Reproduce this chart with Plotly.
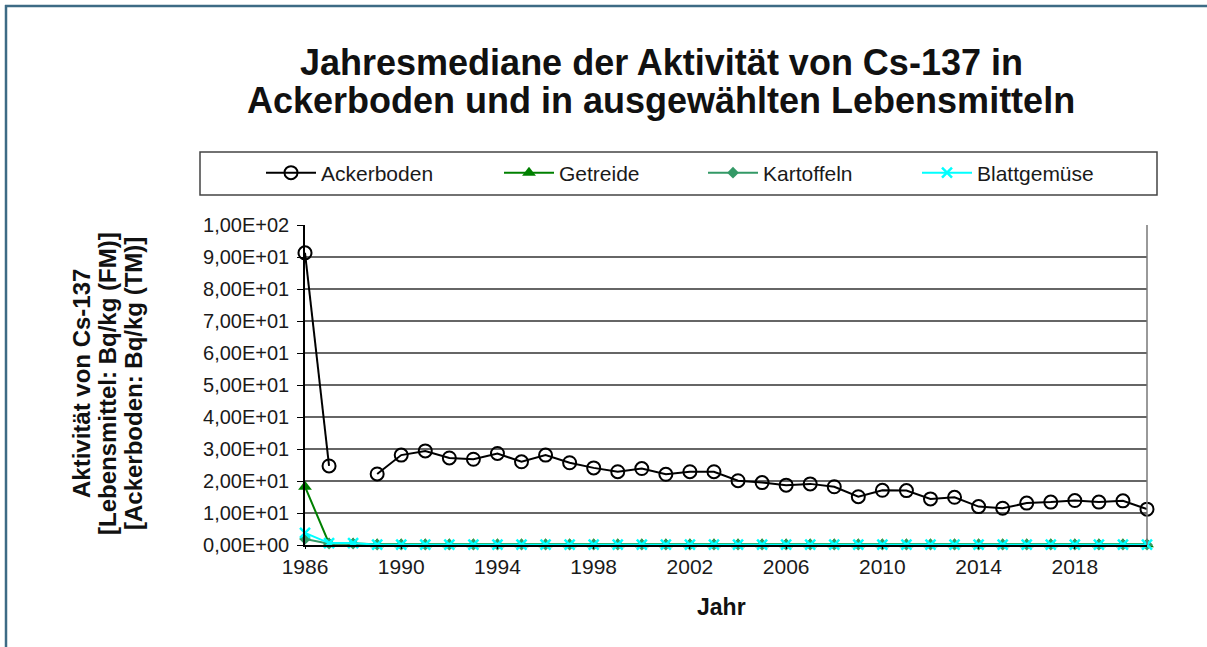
import plotly.graph_objects as go

# ---- data -------------------------------------------------------------
years = [1986, 1987, 1988, 1989, 1990, 1991, 1992, 1993, 1994, 1995,
         1996, 1997, 1998, 1999, 2000, 2001, 2002, 2003, 2004, 2005,
         2006, 2007, 2008, 2009, 2010, 2011, 2012, 2013, 2014, 2015,
         2016, 2017, 2018, 2019, 2020, 2021]

ackerboden = [91.3, 24.7, None, 22.2, 28.1, 29.4, 27.2, 26.8, 28.6, 26.0,
              28.1, 25.7, 24.1, 22.9, 23.9, 22.1, 22.9, 22.9, 20.1, 19.5,
              18.7, 19.1, 18.2, 15.1, 17.1, 17.0, 14.4, 14.9, 12.0, 11.5,
              13.1, 13.4, 13.9, 13.4, 13.8, 11.2]

getreide = [18.2, 0.5, 0.5, 0.2, 0.2, 0.2, 0.2, 0.2, 0.2, 0.2,
            0.2, 0.2, 0.2, 0.2, 0.2, 0.2, 0.2, 0.2, 0.2, 0.2,
            0.2, 0.2, 0.2, 0.2, 0.2, 0.2, 0.2, 0.2, 0.2, 0.2,
            0.2, 0.2, 0.2, 0.2, 0.2, 0.2]

kartoffeln = [1.9, 0.4, 0.4, 0.1, 0.1, 0.1, 0.1, 0.1, 0.1, 0.1,
              0.1, 0.1, 0.1, 0.1, 0.1, 0.1, 0.1, 0.1, 0.1, 0.1,
              0.1, 0.1, 0.1, 0.1, 0.1, 0.1, 0.1, 0.1, 0.1, 0.1,
              0.1, 0.1, 0.1, 0.1, 0.1, 0.1]

blattgemuese = [3.8, 0.6, 0.6, 0.1, 0.1, 0.1, 0.1, 0.1, 0.1, 0.1,
                0.1, 0.1, 0.1, 0.1, 0.1, 0.1, 0.1, 0.1, 0.1, 0.1,
                0.1, 0.1, 0.1, 0.1, 0.1, 0.1, 0.1, 0.1, 0.1, 0.1,
                0.1, 0.1, 0.1, 0.1, 0.1, 0.1]

x_tickvals = [1986, 1990, 1994, 1998, 2002, 2006, 2010, 2014, 2018]
y_tickvals = [0, 10, 20, 30, 40, 50, 60, 70, 80, 90, 100]
y_ticktext = ["0,00E+00", "1,00E+01", "2,00E+01", "3,00E+01", "4,00E+01",
              "5,00E+01", "6,00E+01", "7,00E+01", "8,00E+01", "9,00E+01",
              "1,00E+02"]

title_lines = ["Jahresmediane der Aktivität von Cs-137 in",
               "Ackerboden und in ausgewählten Lebensmitteln"]
ytitle_lines = ["Aktivität von Cs-137",
                "[Lebensmittel: Bq/kg (FM)]",
                "[Ackerboden: Bq/kg (TM)]"]
xtitle = "Jahr"

FONT = "Liberation Sans, Arial, sans-serif"
W, H = 1207, 647
L, R, T, B = 305, 60, 225, 102
PW, PH = W - L - R, H - T - B


def px_x(px):
    return (px - L) / PW


def px_y(py):
    return (H - B - py) / PH


fig = go.Figure()

fig.add_trace(go.Scatter(
    x=years, y=ackerboden, name="Ackerboden", mode="lines+markers",
    line=dict(color="black", width=2),
    marker=dict(symbol="circle-open", size=13, color="black",
                line=dict(width=2, color="black")),
    cliponaxis=False, legend="legend"))

fig.add_trace(go.Scatter(
    x=years, y=getreide, name="Getreide", mode="lines+markers",
    line=dict(color="#008000", width=2),
    marker=dict(symbol="triangle-up", size=12, color="#008000"),
    cliponaxis=False, legend="legend2"))

fig.add_trace(go.Scatter(
    x=years, y=kartoffeln, name="Kartoffeln", mode="lines+markers",
    line=dict(color="#339966", width=2),
    marker=dict(symbol="diamond", size=9, color="#339966"),
    cliponaxis=False, legend="legend3"))

fig.add_trace(go.Scatter(
    x=years, y=blattgemuese, name="Blattgemüse", mode="lines+markers",
    line=dict(color="#00ffff", width=2),
    marker=dict(symbol="x-thin", size=10, color="#00ffff",
                line=dict(width=2.5, color="#00ffff")),
    cliponaxis=False, legend="legend4"))

leg_common = dict(orientation="h", yanchor="middle", y=px_y(173),
                  xanchor="left", bgcolor="rgba(0,0,0,0)", borderwidth=0,
                  itemwidth=50,
                  font=dict(family=FONT, size=21, color="#1a1a1a"))

fig.update_layout(
    width=W, height=H,
    margin=dict(l=L, r=R, t=T, b=B, pad=0),
    paper_bgcolor="white", plot_bgcolor="white",
    font=dict(family=FONT, size=20, color="#1a1a1a"),
    showlegend=True,
    legend=dict(x=px_x(261), **leg_common),
    legend2=dict(x=px_x(499), **leg_common),
    legend3=dict(x=px_x(703), **leg_common),
    legend4=dict(x=px_x(917), **leg_common),
    xaxis=dict(range=[1986, 2021], tickvals=x_tickvals,
               showgrid=False, zeroline=False,
               showline=True, linecolor="black", linewidth=1.5,
               ticks="outside", ticklen=2, tickcolor="black",
               tickfont=dict(family=FONT, size=21, color="#1a1a1a")),
    yaxis=dict(range=[0, 100], tickvals=y_tickvals, ticktext=y_ticktext,
               showgrid=True, gridcolor="#666666", gridwidth=1.5,
               zeroline=False,
               showline=True, linecolor="black", linewidth=1.5,
               ticks="outside", ticklen=6, tickcolor="black",
               ticklabelstandoff=4,
               tickfont=dict(family=FONT, size=20, color="#1a1a1a")),
)

# chart title, two lines
for txt, cy in zip(title_lines, [62, 100]):
    fig.add_annotation(
        x=px_x(661), y=px_y(cy), xref="paper", yref="paper",
        text=txt, showarrow=False, xanchor="center", yanchor="middle",
        font=dict(family=FONT, size=36, color="#111111", weight="bold"))

# y-axis title, three rotated lines
for txt, cx in zip(ytitle_lines, [81, 107, 133]):
    fig.add_annotation(
        x=px_x(cx), y=px_y(384), xref="paper", yref="paper",
        text=txt, textangle=-90, showarrow=False,
        xanchor="center", yanchor="middle",
        font=dict(family=FONT, size=24, color="#111111", weight="bold"))

fig.add_annotation(
    x=px_x(721), y=px_y(607), xref="paper", yref="paper",
    text=xtitle, showarrow=False, xanchor="center", yanchor="middle",
    font=dict(family=FONT, size=23, color="#111111", weight="bold"))

# plot-area right border
fig.add_shape(type="line", xref="paper", yref="paper",
              x0=1, x1=1, y0=0, y1=1, line=dict(color="#777777", width=1.5))

# legend frame
fig.add_shape(type="rect", xref="paper", yref="paper",
              x0=px_x(200), x1=px_x(1157), y0=px_y(195), y1=px_y(152),
              line=dict(color="#444444", width=1.5), layer="below")

# outer frame (left and top edges)
fig.add_shape(type="line", xref="paper", yref="paper",
              x0=px_x(6), x1=px_x(6), y0=px_y(5), y1=px_y(H + 5),
              line=dict(color="#3d6b85", width=2.5))
fig.add_shape(type="line", xref="paper", yref="paper",
              x0=px_x(5), x1=px_x(W + 5), y0=px_y(6), y1=px_y(6),
              line=dict(color="#3d6b85", width=2.5))

fig.write_html(
    "out.html",
    config={"displayModeBar": False},
    post_script="document.body.style.margin='0px';"
                "document.body.style.overflow='hidden';")
